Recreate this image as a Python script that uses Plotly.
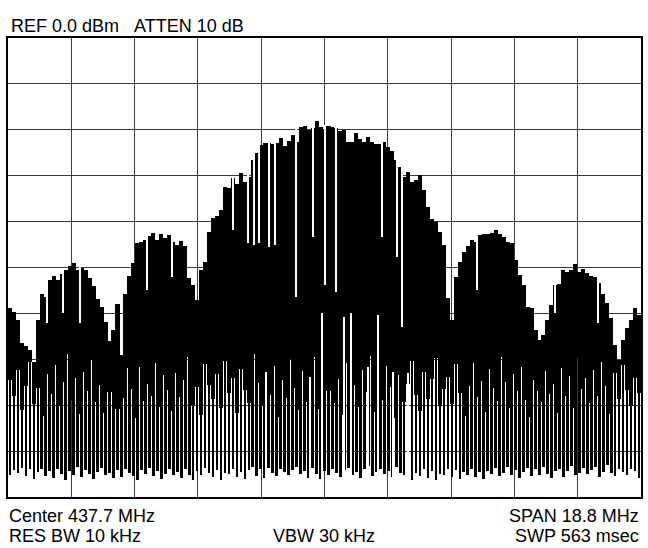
import plotly.graph_objects as go

# ---- instrument settings (text) ----
center_mhz = 437.7
span_mhz = 18.8
ref_dbm = 0.0
db_per_div = 10
n_div = 10

header_text = "REF 0.0 dBm\u00a0\u00a0\u00a0ATTEN 10 dB"
footer_left = ["Center 437.7 MHz", "RES BW 10 kHz"]
footer_mid = "VBW 30 kHz"
footer_right = ["SPAN 18.8 MHz", "SWP 563 msec"]

# ---- trace data (dBm), one value per display bin ----
peaks = [
    -58.8, -59.7, -61.4, -66.4, -67.1, -68.0, -70.6, -61.4, -55.8, -56.4,
    -52.7, -51.9, -52.7, -51.4, -50.5, -49.7, -49.0, -50.5, -50.1, -50.5,
    -52.3, -54.0, -56.9, -58.6, -61.9, -66.0, -63.6, -58.0, -69.1, -55.8,
    -51.9, -49.0, -44.7, -44.4, -44.0, -43.1, -42.5, -44.0, -42.7, -43.6,
    -42.9, -44.4, -45.1, -44.2, -45.3, -52.3, -53.8, -57.1, -50.5, -48.8,
    -42.3, -39.2, -38.8, -37.5, -32.5, -32.7, -30.5, -31.8, -29.4, -31.4,
    -30.3, -26.6, -25.1, -23.3, -22.9, -22.9, -23.1, -22.9, -21.8, -23.5,
    -22.4, -21.1, -22.7, -19.4, -19.2, -20.0, -19.6, -18.1, -19.4, -19.8,
    -19.2, -19.4, -19.6, -20.3, -20.0, -22.7, -22.7, -20.7, -22.0, -22.7,
    -21.6, -22.7, -23.1, -23.1, -22.7, -23.7, -24.6, -26.6, -28.1, -30.3,
    -29.2, -31.4, -30.9, -29.8, -33.1, -36.8, -39.4, -40.1, -42.3, -45.1,
    -56.6, -61.4, -52.1, -48.8, -46.6, -45.3, -44.0, -44.4, -42.9, -42.7,
    -42.7, -42.5, -41.8, -42.7, -43.4, -44.4, -44.7, -48.4, -51.6, -53.8,
    -58.6, -58.8, -63.6, -65.8, -64.7, -61.4, -58.2, -53.8, -53.6, -50.5,
    -51.0, -50.5, -49.2, -51.0, -50.3, -51.2, -51.9, -52.1, -53.4, -55.8,
    -57.7, -61.0, -66.9, -70.2, -65.8, -63.2, -61.4, -58.8, -60.4,
]

# level up to which the white gaps between spikes reach from below
gap_tops = [
    -74.5, -78.0, -72.4, -81.1, -75.8, -70.6, -79.7, -76.2, -82.4, -73.1,
    -77.6, -71.3, -80.2, -75.0, -68.8, -78.9, -74.1, -82.0, -72.7, -76.9,
    -70.2, -79.3, -75.5, -81.6, -73.8, -77.2, -69.9, -80.8, -74.8, -78.5,
    -72.0, -76.4, -82.7, -71.7, -79.0, -75.3, -77.9, -70.9, -80.4, -73.5,
    -76.7, -81.3, -72.9, -78.2, -74.4, -69.6, -79.9, -76.0, -82.2, -71.1,
    -75.6, -78.7, -73.3, -80.6, -70.4, -77.4, -74.0, -81.8, -72.2, -76.6,
    -79.5, -68.9, -75.1, -80.0, -73.7, -77.8, -71.5, -82.5, -74.6, -78.4,
    -70.0, -76.3, -81.0, -72.6, -79.2, -75.2, -69.4, -77.5, -80.9, -73.0,
    -76.8, -71.9, -79.6, -74.3, -82.1, -70.7, -78.1, -75.7, -80.3, -72.3,
    -77.1, -69.2, -81.4, -74.9, -78.8, -71.4, -76.1, -82.8, -73.4, -79.4,
    -75.4, -70.3, -77.7, -81.2, -72.8, -78.6, -74.2, -69.7, -80.1, -76.5,
    -73.9, -79.8, -71.0, -77.3, -82.3, -75.9, -70.8, -78.3, -74.7, -81.5,
    -72.1, -76.2, -79.1, -69.5, -75.0, -80.7, -73.2, -77.0, -71.6, -78.9,
    -82.6, -74.5, -70.1, -76.9, -79.3, -72.5, -77.6, -75.3, -81.7, -71.8,
    -78.0, -73.6, -80.5, -69.8, -76.4, -74.1, -79.6, -72.4, -77.9, -70.5,
    -75.8, -81.9, -73.0, -78.6, -71.2, -76.7, -80.2, -74.0, -77.3,
]

troughs = [
    -95.2, -94.1, -94.8, -93.6, -95.5, -94.0, -96.0, -94.6, -93.8, -95.4,
    -94.3, -95.8, -93.9, -94.9, -96.2, -94.4, -95.1, -93.5, -95.7, -94.2,
    -95.0, -96.1, -94.5, -93.7, -95.3, -94.8, -95.9, -94.1, -95.6, -93.9,
    -94.7, -95.4, -96.3, -94.2, -95.0, -93.6, -95.5, -94.4, -96.0, -94.9,
    -93.8, -95.2, -94.6, -95.8, -94.0, -95.3, -96.4, -94.3, -95.1, -93.7,
    -94.8, -95.6, -94.1, -96.2, -94.7, -95.0, -93.9, -95.7, -94.5, -96.1,
    -94.2, -93.4, -95.4, -94.0, -95.9, -93.6, -94.8, -95.5, -93.8, -94.6,
    -95.2, -94.1, -93.5, -95.0, -94.4, -95.8, -93.7, -94.9, -96.0, -94.3,
    -95.3, -93.9, -94.7, -95.6, -94.2, -93.6, -95.1, -94.5, -95.9, -94.0,
    -93.3, -95.4, -94.6, -93.8, -95.0, -94.3, -95.7, -93.5, -94.8, -95.2,
    -94.1, -96.2, -94.7, -95.5, -94.0, -95.8, -94.4, -96.3, -94.9, -95.1,
    -93.8, -95.6, -94.2, -96.0, -94.6, -95.3, -93.9, -95.7, -94.5, -96.1,
    -94.3, -95.0, -93.6, -95.4, -94.8, -93.4, -95.2, -94.1, -95.9, -94.6,
    -93.7, -95.5, -94.0, -95.1, -93.5, -94.9, -95.8, -94.3, -93.9, -95.6,
    -94.4, -93.2, -95.3, -94.7, -93.6, -95.0, -94.2, -93.4, -95.7, -94.5,
    -93.1, -94.8, -95.4, -93.9, -94.6, -95.2, -93.8, -94.3, -95.9,
]

# thin dropouts reaching down from the top of the signal (MHz, dBm)
drop_freqs = [429.45, 429.93, 430.43, 432.44, 433.18,
              434.99, 435.44, 435.61, 435.76, 436.06, 436.23, 436.86,
              437.36, 437.71, 438.04, 439.40, 439.85, 439.99,
              442.24, 444.55, 445.83]
drop_floors = [-62.0, -60.0, -62.0, -55.0, -52.0,
               -41.8, -44.7, -45.1, -44.7, -45.5, -45.1, -56.4,
               -43.4, -53.8, -55.3, -43.4, -47.7, -63.0,
               -55.0, -60.0, -62.0]

# long white gaps rising from the noise floor inside the main lobe (MHz, dBm)
rise_freqs = [435.97, 437.27, 437.63, 438.28, 438.48, 438.99, 439.28, 439.73, 440.17]
rise_tops = [-72.8, -73.9, -59.9, -60.8, -59.9, -71.7, -60.3, -72.8, -73.0]

# ---- build figure ----
f_start = center_mhz - span_mhz / 2
f_stop = center_mhz + span_mhz / 2
floor_dbm = ref_dbm - db_per_div * n_div
n_bins = len(peaks)
bw = span_mhz / n_bins
freqs = [f_start + (i + 0.5) * bw for i in range(n_bins)]

fig = go.Figure()

# upper body of each spike (full bin width)
fig.add_trace(go.Bar(
    x=freqs, base=gap_tops, y=[p - g for p, g in zip(peaks, gap_tops)],
    width=bw * 1.02, marker=dict(color="black", line=dict(width=0)),
    hoverinfo="skip", showlegend=False))

# lower stems of each spike (narrower, leaving white gaps)
fig.add_trace(go.Bar(
    x=freqs, base=troughs, y=[g - t for g, t in zip(gap_tops, troughs)],
    width=bw * 0.68, marker=dict(color="black", line=dict(width=0)),
    hoverinfo="skip", showlegend=False))

# dropouts from the top
drop_tops = []
for f in drop_freqs:
    k = min(n_bins - 1, max(0, int((f - f_start) / bw)))
    drop_tops.append(max(peaks[max(0, k - 1):k + 2]) + 0.3)
fig.add_trace(go.Bar(
    x=drop_freqs, base=drop_floors, y=[t - b for t, b in zip(drop_tops, drop_floors)],
    width=bw * 0.22, marker=dict(color="white", line=dict(width=0)),
    hoverinfo="skip", showlegend=False))

# gaps rising from the floor
rise_base = floor_dbm + 2
fig.add_trace(go.Bar(
    x=rise_freqs, base=[rise_base] * len(rise_freqs),
    y=[t - rise_base for t in rise_tops],
    width=bw * 0.25, marker=dict(color="white", line=dict(width=0)),
    hoverinfo="skip", showlegend=False))

grid_color = "#3a3a3a"
fig.update_xaxes(range=[f_start, f_stop], tick0=f_start, dtick=span_mhz / n_div,
                 showgrid=True, gridcolor=grid_color, gridwidth=1.2,
                 showticklabels=False, ticks="", zeroline=False,
                 showline=True, linecolor="black", linewidth=1.5, mirror=True)
fig.update_yaxes(range=[floor_dbm, ref_dbm], tick0=ref_dbm,
                 dtick=db_per_div, showgrid=True, gridcolor=grid_color, gridwidth=1.2,
                 showticklabels=False, ticks="", zeroline=False,
                 showline=True, linecolor="black", linewidth=1.5, mirror=True)

W, H = 648, 548
L, R, T, B = 8, 5, 38, 51
def px(x):
    return (x - L) / (W - L - R)
def py(y):
    return (H - B - y) / (H - T - B)

font_family = "Liberation Sans, Arimo, Arial, sans-serif"
fs = 18
ann = []
ann.append(dict(text=header_text, x=px(9), y=py(25.5), xanchor="left", yanchor="middle"))
ann.append(dict(text=footer_left[0], x=px(7), y=py(516), xanchor="left", yanchor="middle"))
ann.append(dict(text=footer_left[1], x=px(7), y=py(536), xanchor="left", yanchor="middle"))
ann.append(dict(text=footer_mid, x=px(324.5), y=py(536), xanchor="center", yanchor="middle"))
ann.append(dict(text=footer_right[0], x=px(643), y=py(516), xanchor="right", yanchor="middle"))
ann.append(dict(text=footer_right[1], x=px(643), y=py(536), xanchor="right", yanchor="middle"))
for a in ann:
    a.update(xref="paper", yref="paper", showarrow=False,
             font=dict(family=font_family, size=fs, color="black"))

fig.update_layout(
    width=W, height=H, margin=dict(l=L, r=R, t=T, b=B),
    paper_bgcolor="white", plot_bgcolor="white",
    barmode="overlay", bargap=0, annotations=ann, showlegend=False)

fig.write_html("out.html", config={"displayModeBar": False},
               post_script="document.body.style.margin='0';document.body.style.overflow='hidden';")
